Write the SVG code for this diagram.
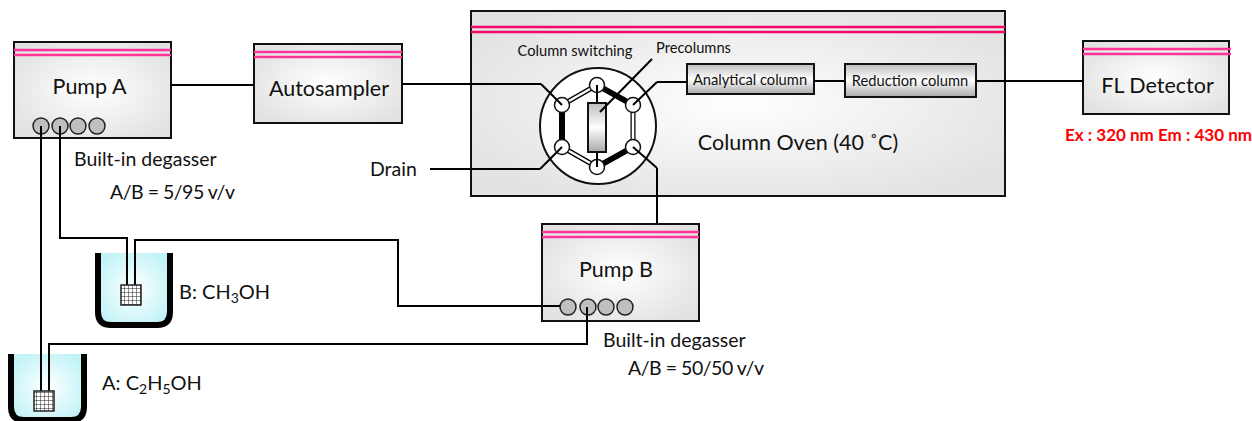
<svg xmlns="http://www.w3.org/2000/svg" width="1252" height="421" viewBox="0 0 1252 421">
<style>
text{font-family:Lato,"Liberation Sans",sans-serif;fill:#111}
.box{fill:url(#panel);stroke:#111;stroke-width:2}
.pink{stroke:#ff3399;stroke-width:2.5;fill:none}
.pinkoven{stroke:#f5076a;stroke-width:2.5;fill:none}
.ln{fill:none;stroke:#000;stroke-width:2}
.dot{fill:#bfbfbf;stroke:#222;stroke-width:1.5}
.col{fill:url(#metal);stroke:#111;stroke-width:2}
.port{fill:#fff;stroke:#111;stroke-width:1.5}
.wall{fill:none;stroke:#000;stroke-width:6}
.liq{fill:url(#liquid)}
.l18{font-size:21.5px;text-anchor:middle}
.l15{font-size:19.5px}
.l13{font-size:14.7px;text-anchor:middle}
.sub{font-size:14px}
</style>
<defs>
<radialGradient id="panel" cx="50%" cy="50%" r="60%"><stop offset="0" stop-color="#fff"/><stop offset="1" stop-color="#e2e2e2"/></radialGradient>
<radialGradient id="liquid" cx="50%" cy="50%" r="60%"><stop offset="0" stop-color="#fff"/><stop offset="1" stop-color="#bff3f7"/></radialGradient>
<linearGradient id="metal" x1="0" y1="0" x2="0" y2="1"><stop offset="0" stop-color="#bdbdbd"/><stop offset=".5" stop-color="#fff"/><stop offset="1" stop-color="#a8a8a8"/></linearGradient>
<pattern id="mesh" width="4" height="4" patternUnits="userSpaceOnUse"><rect width="4" height="4" fill="#fff"/><path d="M0 0H4M0 0V4" stroke="#222" stroke-width="1"/></pattern>
</defs>

<g id="oven"><rect class="box" x="471" y="11" width="534" height="185"/><path class="pinkoven" d="M471 27H1005M471 32H1005"/><text class="l18" x="798" y="150">Column Oven (40 ˚C)</text></g>
<g id="pump-a"><rect class="box" x="14" y="42" width="157" height="96"/><path class="pink" d="M14 50H171M14 55H171"/><text class="l18" x="89.500" y="94">Pump A</text><circle class="dot" cx="41" cy="126" r="8"/><circle class="dot" cx="60" cy="126" r="8"/><circle class="dot" cx="78" cy="126" r="8"/><circle class="dot" cx="97" cy="126" r="8"/></g>
<g id="autosampler"><rect class="box" x="254" y="44" width="148" height="79"/><path class="pink" d="M254 52H402M254 57H402"/><text class="l18" x="329" y="96">Autosampler</text></g>
<g id="fl-detector"><rect class="box" x="1083" y="41" width="146" height="73"/><path class="pink" d="M1083 49H1231M1083 54H1231"/><text class="l18" x="1157.500" y="93">FL Detector</text></g>
<g id="pump-b"><rect class="box" x="542" y="224" width="157" height="97"/><path class="pink" d="M542 232H699M542 237H699"/><text class="l18" x="616" y="277">Pump B</text><circle class="dot" cx="568" cy="307" r="8"/><circle class="dot" cx="588" cy="307" r="8"/><circle class="dot" cx="606" cy="307" r="8"/><circle class="dot" cx="625" cy="307" r="8"/></g>
<g id="analytical-column"><rect class="col" x="687" y="64" width="127" height="30"/><text class="l13" x="750" y="85">Analytical column</text></g>
<g id="reduction-column"><rect class="col" x="845" y="64" width="131" height="33"/><text class="l13" x="910" y="86">Reduction column</text></g>

<g id="bottle-b"><path class="liq" d="M98 253V316Q98 325 110 325H158Q170 325 170 316V253Z"/><path class="wall" d="M98 253V312Q98 325 111 325H157Q170 325 170 312V253"/></g>
<g id="bottle-a"><path class="liq" d="M11 354V417Q11 421 23 421H72Q84 421 84 417V354Z"/><path class="wall" d="M11 354V407Q11 420 24 420H71Q84 420 84 407V354"/></g>

<g id="connectors">
<path class="ln" d="M171 85H254"/>
<path class="ln" d="M402 84H541"/>
<path class="ln" d="M430 169H540"/>
<path class="ln" d="M657 82H687"/>
<path class="ln" d="M657 168V224"/>
<path class="ln" d="M814 81H845"/>
<path class="ln" d="M976 81H1083"/>
<path class="ln" d="M41 126V391"/>
<path class="ln" d="M49 391V344H587V307"/>
<path class="ln" d="M60 126V238H127V285"/>
<path class="ln" d="M135 285V240H398V306H560"/>
</g>

<g id="filter-b"><rect x="121" y="285" width="20" height="20" fill="url(#mesh)" stroke="#222" stroke-width="1.500"/></g>
<g id="filter-a"><rect x="34" y="391" width="20" height="20" fill="url(#mesh)" stroke="#222" stroke-width="1.500"/></g>

<g id="valve">
<circle cx="598" cy="126" r="58" fill="#fff" stroke="#111" stroke-width="2"/>
<path d="M597 85L633 105M562 105V147M633 147L597 167" fill="none" stroke="#000" stroke-width="6"/>
<path d="M633 105V147M562 147L597 167M562 105L597 85" fill="none" stroke="#000" stroke-width="5"/>
<path d="M633 105V147M562 147L597 167M562 105L597 85" fill="none" stroke="#fff" stroke-width="2.500"/>
<circle class="port" cx="597" cy="85" r="7.500"/><circle class="port" cx="633" cy="105" r="7.500"/><circle class="port" cx="633" cy="147" r="7.500"/><circle class="port" cx="597" cy="167" r="7.500"/><circle class="port" cx="562" cy="147" r="7.500"/><circle class="port" cx="562" cy="105" r="7.500"/>
<path class="ln" d="M597 85V167"/>
<path class="ln" d="M541 84L562 105M540 169L562 147M633 105L657 82M633 147L657 168"/>
<rect x="588" y="103" width="18" height="49" fill="url(#metal)" stroke="#111" stroke-width="2"/>
<path class="ln" d="M652 59L600 112"/>
</g>

<g id="labels">
<text x="575" y="56" style="font-size:14.7px;text-anchor:middle">Column switching</text>
<text x="656" y="53" style="font-size:14.7px">Precolumns</text>
<text x="370" y="176" class="l15">Drain</text>
<text x="74" y="166" class="l15">Built-in degasser</text>
<text x="110" y="199" class="l15" textLength="125">A/B = 5/95 v/v</text>
<text x="603" y="347" class="l15">Built-in degasser</text>
<text x="628" y="375" class="l15" textLength="136">A/B = 50/50 v/v</text>
<text x="179" y="299" style="font-size:20px">B: CH<tspan class="sub" dy="4">3</tspan><tspan dy="-4">OH</tspan></text>
<text x="102" y="390" style="font-size:20px">A: C<tspan class="sub" dy="4">2</tspan><tspan dy="-4">H</tspan><tspan class="sub" dy="4">5</tspan><tspan dy="-4">OH</tspan></text>
<text x="1065" y="141" style="font-size:17px;font-weight:700;fill:#f00">Ex : 320 nm Em : 430 nm</text>
</g>
</svg>
